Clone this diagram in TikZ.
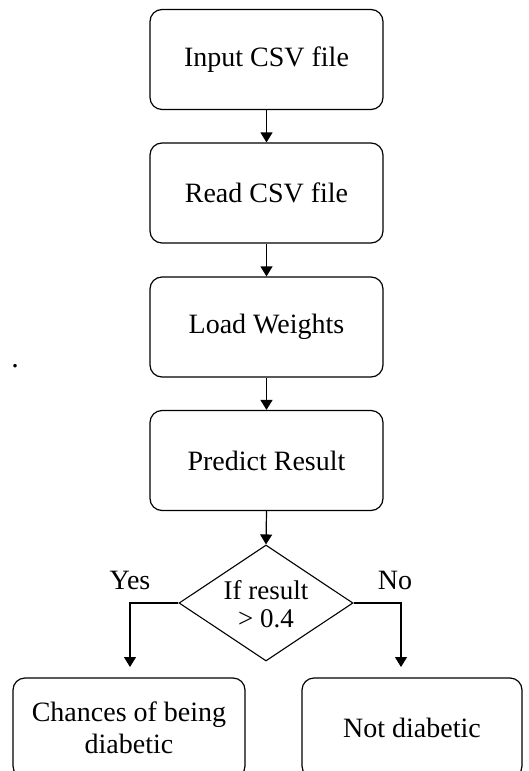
\documentclass[tikz,border=0pt]{standalone}
\usepackage{fontspec}
\setmainfont{Liberation Serif}
\usetikzlibrary{shapes.geometric,arrows.meta}
\begin{document}
\begin{tikzpicture}[x=1pt,y=-1pt,
  every node/.style={font=\fontsize{28}{32}\selectfont},
  procbox/.style={draw,line width=1.2pt,rounded corners=12pt,inner sep=0pt,
    minimum width=233pt,minimum height=100pt,align=center},
  decision/.style={draw,line width=1.1pt,diamond,inner sep=0pt,
    minimum width=174pt,minimum height=116pt},
  conn/.style={line width=1.2pt,-{Triangle[length=10pt,width=12pt]}},
  lbl/.style={inner sep=0pt}]
\path[use as bounding box,clip] (0,0) rectangle (529,771);
\node[procbox] (b1) at (266.5,59.5) {Input CSV file};
\node[procbox] (b2) at (266.5,193) {Read CSV file};
\node[procbox] (b3) at (266.5,327) {Load Weights};
\node[procbox] (b4) at (266.5,460.5) {Predict Result};
\node[decision] (d) at (266,603) {};
\node[align=center,inner sep=0pt,font=\fontsize{27}{28}\selectfont] (dt) at (266,604) {If result\\> 0.4};
\node[procbox,minimum width=232pt] (lb) at (129,728) {Chances of being\\diabetic};
\node[procbox,minimum width=220pt] (rb) at (412,728) {Not diabetic};
\coordinate (ya) at (130,667);
\coordinate (na) at (401,667);
\draw[conn] (b1.south) -- (b2.north);
\draw[conn] (b2.south) -- (b3.north);
\draw[conn] (b3.south) -- (b4.north);
\draw[conn] (b4.south) -- (d.north);
\draw[conn] (d.west) -| (ya);
\draw[conn] (d.east) -| (na);
\node[lbl] (yes) at (130,580) {Yes};
\node[lbl] (no) at (395,580) {No};
\node[lbl,anchor=base,font=\fontsize{30}{30}\selectfont] (dot) at (15,367) {.};
\end{tikzpicture}
\end{document}
